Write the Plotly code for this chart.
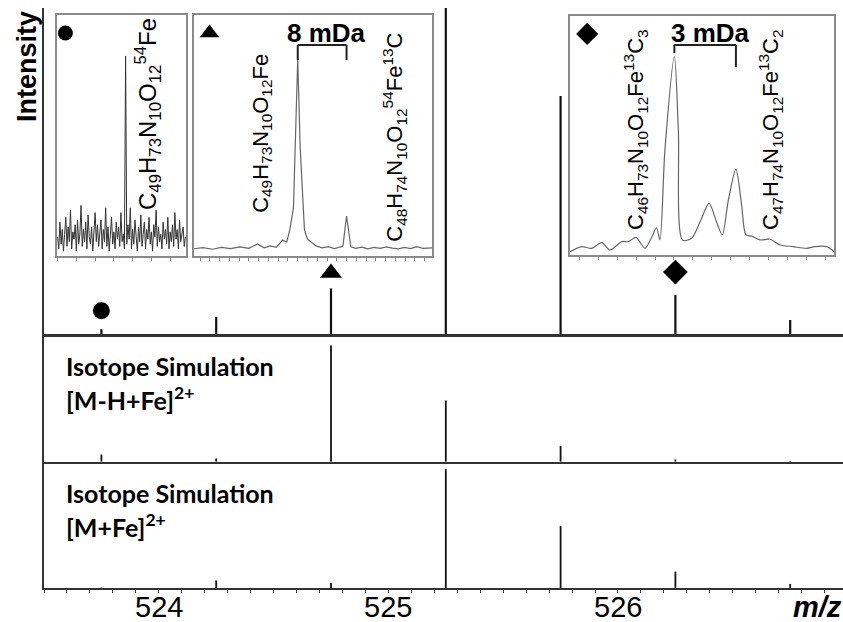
import plotly.graph_objects as go

# ---------------- data ----------------
mz = [523.75, 524.25, 524.75, 525.25, 525.75, 526.25, 526.75]
exp_int = [1.5, 5.2, 14, 100, 73, 12, 4.3]          # experimental (% of top panel)
sim_mhfe = [5.7, 2.6, 91, 48, 12.3, 1.8, 0.5]       # [M-H+Fe]2+ simulation
sim_mfe = [0.3, 6, 4, 94, 49, 13, 3.2]              # [M+Fe]2+ simulation
tick_vals = [524, 525, 526]
tick_text = ["524", "525", "526"]

# marked peaks in the experimental panel
mark_mz = [523.75, 524.75, 526.25]
mark_y = [7.1, 18.7, 19.0]
mark_sym = ["circle", "triangle-up", "diamond"]
mark_size = [17, 19, 19]

# inset 1 (circle): noisy region with a single 54Fe peak
inset1_y = [8, 3, 14, 5, 11, 2, 9, 16, 4, 12, 6, 19, 3, 10, 7, 13, 2, 15, 5, 9, 21, 4, 11, 6,
            14, 3, 17, 8, 5, 12, 2, 10, 18, 6, 13, 4, 9, 15, 3, 11, 6, 20, 4, 12, 2, 9, 16, 5,
            10, 3, 14, 7, 12, 4, 18, 6, 9, 3, 83, 5, 13, 7, 20, 3, 11, 5, 15, 8, 2, 12, 6, 17,
            4, 9, 14, 3, 11, 7, 16, 5, 10, 2, 13, 8, 19, 4, 12, 6, 9, 3, 14, 7, 11, 5, 16, 3,
            10, 6, 13, 4, 18, 7, 11, 3, 15, 6, 9, 12, 4, 8]

# inset 2 (triangle): profile in mDa relative to main peak
inset2_x = [-17, -15.5, -14, -12.5, -11, -9.5, -8, -6.6, -5.5, -4.5, -3.5, -2.5, -1.8, -1.3,
            -0.7, -0.3, 0, 0.4, 0.8, 1.1, 1.6, 2.3, 3, 4, 5, 6, 6.8, 7.4, 8.0, 8.7, 9.5, 10.5,
            11.5, 12.5, 13.5, 14.5, 15.5, 16.5, 17.5, 18.5, 19.5, 20.5, 22]
inset2_y = [3, 3.5, 2.8, 3.6, 3.1, 3.8, 3.2, 5.0, 3.4, 4.2, 3.6, 6.6, 5.8, 10.8,
            20, 55, 82, 45, 25, 10.8, 7, 5.4, 4.2, 3.4, 3.9, 3.1, 3.5, 4, 16.6, 3.8, 3.2, 3.7,
            3.0, 3.6, 3.2, 3.8, 3.3, 3.0, 3.6, 3.1, 3.9, 3.2, 3.4]
inset2_peaks = [0, 8]          # bracketed peaks (mDa)
inset2_gap = "8 mDa"

# inset 3 (diamond): profile in mDa relative to main peak
inset3_x = [-4.95, -4.40, -3.92, -3.44, -3.05, -2.49, -2.17, -1.81, -1.38, -1.06, -0.83, -0.67,
            -0.43, 0.02, 0.21, 0.41, 0.84, 1.24, 1.67, 2.03, 2.30, 2.59, 2.95, 3.22, 3.43, 3.70,
            4.10, 4.57, 5.05, 5.68, 6.32, 6.71, 7.27, 7.62]
inset3_y = [1.4, 3.5, 2.8, 5.2, 2.1, 5.6, 5.6, 7.4, 2.8, 7.4, 11.4, 6.3,
            44, 83, 52, 6.3, 7.0, 13.8, 21.6, 13.8, 8.4, 23, 35.9, 21, 8.4, 7.9,
            6.3, 6.6, 4.2, 3.5, 2.8, 3.5, 3.5, 1.4]
inset3_peaks = [0.02, 2.95]
inset3_gap = "3 mDa"

# ---------------- helpers ----------------
def sticks(pos, hts):
    xs, ys = [], []
    for p, h in zip(pos, hts):
        xs += [p, p, None]
        ys += [0, h, None]
    return xs, ys

W, H = 843, 622
L, R, T, B = 44, 0, 8, 34
pw, ph = W - L - R, H - T - B

def px(xp):          # pixel x -> paper
    return (xp - L) / pw

def py(yp):          # pixel y -> paper
    return (H - B - yp) / ph

AX = "#333333"
GR = "#8a8a8a"
FONT = "Liberation Sans, Arial, sans-serif"

fig = go.Figure()

# main panels
for xs_ax, ys_ax, vals, lw in [("x", "y", sim_mfe, 1.8), ("x2", "y2", sim_mhfe, 1.8), ("x3", "y3", exp_int, 2.2)]:
    xs, ys = sticks(mz, vals)
    fig.add_trace(go.Scatter(x=xs, y=ys, mode="lines", xaxis=xs_ax, yaxis=ys_ax,
                             line=dict(color="#111111", width=lw), hoverinfo="skip", showlegend=False))

# markers above experimental peaks
for m, yv, s, sz in zip(mark_mz, mark_y, mark_sym, mark_size):
    fig.add_trace(go.Scatter(x=[m], y=[yv], mode="markers", xaxis="x3", yaxis="y3",
                             marker=dict(symbol=s, size=sz, color="black", opacity=1,
                                         line=dict(width=0)),
                             hoverinfo="skip", showlegend=False))

# inset 1
fig.add_trace(go.Scatter(x=list(range(len(inset1_y))), y=inset1_y, mode="lines", xaxis="x4", yaxis="y4",
                         line=dict(color="#333333", width=1), hoverinfo="skip", showlegend=False))
# inset 2
fig.add_trace(go.Scatter(x=inset2_x, y=inset2_y, mode="lines", xaxis="x5", yaxis="y5",
                         line=dict(color="#666666", width=1.2), hoverinfo="skip", showlegend=False))
# inset 3
fig.add_trace(go.Scatter(x=inset3_x, y=inset3_y, mode="lines", xaxis="x6", yaxis="y6",
                         line=dict(color="#666666", width=1.2, shape="spline", smoothing=0.8),
                         hoverinfo="skip", showlegend=False))

# inset symbols
in1_range = [-0.5, len(inset1_y) - 0.5]
in2_range = [-17, 22]
in3_range = [-4.95, 7.62]
for xa, ya, rng, sym, sz in [("x4", "y4", in1_range, "circle", 15),
                              ("x5", "y5", in2_range, "triangle-up", 17),
                              ("x6", "y6", in3_range, "diamond", 17)]:
    fig.add_trace(go.Scatter(x=[rng[0] + 0.065 * (rng[1] - rng[0])], y=[92.5], mode="markers",
                             xaxis=xa, yaxis=ya,
                             marker=dict(symbol=sym, size=sz, color="black", opacity=1, line=dict(width=0)),
                             hoverinfo="skip", showlegend=False))

# brackets
shapes = []
for xa, ya, pk, ytop, yl, yr in [("x5", "y5", inset2_peaks, 87.6, 81.3, 81.3),
                                  ("x6", "y6", inset3_peaks, 87.9, 84.5, 78.7)]:
    lc = dict(color="#222222", width=2)
    shapes.append(dict(type="line", xref=xa, yref=ya, x0=pk[0], x1=pk[1], y0=ytop, y1=ytop, line=lc))
    shapes.append(dict(type="line", xref=xa, yref=ya, x0=pk[0], x1=pk[0], y0=ytop, y1=yl, line=lc))
    shapes.append(dict(type="line", xref=xa, yref=ya, x0=pk[1], x1=pk[1], y0=ytop, y1=yr, line=lc))

ann = []
def formula(text, x, y, xa, ya, size=22):
    ann.append(dict(text=text, x=x, y=y, xref=xa, yref=ya, showarrow=False, textangle=-90,
                    xanchor="center", yanchor="middle", font=dict(family=FONT, size=size, color="black")))

formula("C<sub>49</sub>H<sub>73</sub>N<sub>10</sub>O<sub>12</sub><sup>54</sup>Fe",
        in1_range[0] + 0.705 * (in1_range[1] - in1_range[0]), 58.9, "x4", "y4", 24)
formula("C<sub>49</sub>H<sub>73</sub>N<sub>10</sub>O<sub>12</sub>Fe", -5.9, 51, "x5", "y5")
formula("C<sub>48</sub>H<sub>74</sub>N<sub>10</sub>O<sub>12</sub><sup>54</sup>Fe<sup>13</sup>C", 15.9, 49.4, "x5", "y5")
formula("C<sub>46</sub>H<sub>73</sub>N<sub>10</sub>O<sub>12</sub>Fe<sup>13</sup>C<sub>3</sub>", -1.86, 52.7, "x6", "y6")
formula("C<sub>47</sub>H<sub>74</sub>N<sub>10</sub>O<sub>12</sub>Fe<sup>13</sup>C<sub>2</sub>", 4.57, 52.7, "x6", "y6")

for xa, ya, pk, txt in [("x5", "y5", inset2_peaks, inset2_gap), ("x6", "y6", inset3_peaks, inset3_gap)]:
    ann.append(dict(text="<b>%s</b>" % txt, x=(pk[0] + pk[1]) / 2 + 0.08 * (pk[1] - pk[0]), y=92.7,
                    xref=xa, yref=ya, showarrow=False, xanchor="center", yanchor="middle",
                    font=dict(family=FONT, size=26, color="black")))

SIMF = "Lato, Open Sans, sans-serif"
def simtext(t, yc):
    ann.append(dict(text=t, x=px(64), y=py(yc), xref="paper", yref="paper", showarrow=False,
                    xanchor="left", yanchor="middle", font=dict(family=SIMF, size=25, color="black")))

simtext("<b>Isotope Simulation</b>", 366)
simtext("<b>[M-H+Fe]<sup>2+</sup></b>", 398)
simtext("<b>Isotope Simulation</b>", 493)
simtext("<b>[M+Fe]<sup>2+</sup></b>", 525)

# x tick labels (placed as annotations to sit close to the axis like the original)
for tv, tt in zip(tick_vals, tick_text):
    ann.append(dict(text=tt, x=tv, y=py(607), xref="x", yref="paper", showarrow=False,
                    xanchor="center", yanchor="middle", font=dict(family=FONT, size=29, color="black")))

ann += [
    dict(text="<b><i>m/z</i></b>", x=px(817), y=py(607), xref="paper", yref="paper", showarrow=False,
         xanchor="center", yanchor="middle", font=dict(family=FONT, size=29, color="black")),
    dict(text="<b>Intensity</b>", x=px(27), y=py(67), xref="paper", yref="paper", showarrow=False,
         textangle=-90, xanchor="center", yanchor="middle", font=dict(family=FONT, size=27, color="black")),
]

xr = [523.5, 526.98]
common_x = dict(range=xr, showgrid=False, zeroline=False, showline=True, linecolor=AX, automargin=False)
common_y = dict(range=[0, 100], showgrid=False, zeroline=False, showline=True, linecolor=AX,
                linewidth=2, showticklabels=False, ticks="", automargin=False)

d_bot = [0, py(461.7)]
d_mid = [py(461.7), py(334)]
d_top = [py(334), 1]

def inset_axes(xd, yd, rng, dt):
    xa = dict(domain=xd, range=rng, showgrid=False, zeroline=False, showline=True, mirror=True,
              linecolor=GR, linewidth=1.5, ticks="outside", ticklen=3, tickcolor=GR, dtick=dt,
              showticklabels=False, automargin=False)
    ya = dict(domain=yd, range=[0, 100], showgrid=False, zeroline=False, showline=True, mirror=True,
              linecolor=GR, linewidth=1.5, ticks="", showticklabels=False, automargin=False)
    return xa, ya

ix4, iy4 = inset_axes([px(57), px(186)], [py(256), py(15)], in1_range, 16)
ix5, iy5 = inset_axes([px(194), px(432)], [py(256), py(15)], in2_range, 1.6)
ix6, iy6 = inset_axes([px(570), px(834)], [py(255), py(16)], in3_range, 0.9)
iy4.update(anchor="x4"); ix4.update(anchor="y4")
iy5.update(anchor="x5"); ix5.update(anchor="y5")
iy6.update(anchor="x6"); ix6.update(anchor="y6")

fig.update_layout(
    width=W, height=H, margin=dict(l=L, r=R, t=T, b=B, autoexpand=False),
    paper_bgcolor="white", plot_bgcolor="rgba(0,0,0,0)",
    xaxis=dict(**common_x, anchor="y", linewidth=2, tickmode="array", tickvals=tick_vals,
               showticklabels=False,
               ticks="outside", ticklen=3, tickcolor=AX, tickwidth=1,
               minor=dict(dtick=0.1, tick0=524, ticks="outside", ticklen=3, tickcolor=AX)),
    xaxis2=dict(**common_x, anchor="y2", matches="x", linewidth=2, showticklabels=False, ticks=""),
    xaxis3=dict(**common_x, anchor="y3", matches="x", linewidth=3, showticklabels=False, ticks=""),
    yaxis=dict(**common_y, domain=d_bot, anchor="x"),
    yaxis2=dict(**common_y, domain=d_mid, anchor="x2"),
    yaxis3=dict(**common_y, domain=d_top, anchor="x3"),
    xaxis4=ix4, yaxis4=iy4, xaxis5=ix5, yaxis5=iy5, xaxis6=ix6, yaxis6=iy6,
    shapes=shapes, annotations=ann,
)

fig.write_html("out.html", config={"displayModeBar": False},
               post_script="document.body.style.margin='0';document.body.style.overflow='hidden';")
